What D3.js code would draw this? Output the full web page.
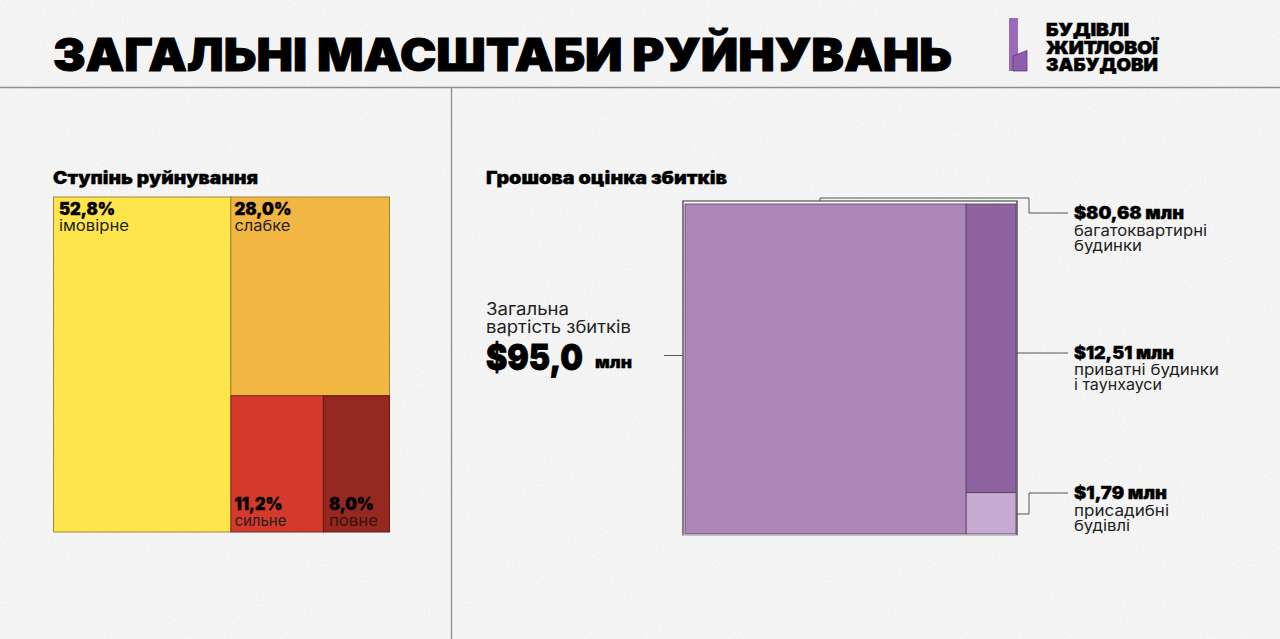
<!DOCTYPE html>
<html><head><meta charset="utf-8">
<script src="https://cdn.jsdelivr.net/npm/d3@7"></script>
<style>html,body{margin:0;padding:0;background:#f4f4f4;overflow:hidden}svg{display:block}text{font-family:Inter,"Noto Sans",sans-serif;fill:#000}</style>
</head><body><svg id="c" width="1280" height="639"></svg>
<script>
const title = "ЗАГАЛЬНІ МАСШТАБИ РУЙНУВАНЬ";
const logoLines = ["БУДІВЛІ","ЖИТЛОВОЇ","ЗАБУДОВИ"];
const damageNames = ["імовірне","слабке","сильне","повне"];
const damageValues = [52.8,28.0,11.2,8.0];
const damageLabels = ["52,8%","28,0%","11,2%","8,0%"];
const damageColors = ["#fee54b","#f2b643","#d5392b","#952820"];
const costValues = [80.68,12.51,1.79];
const costLabels = ["$80,68 млн","$12,51 млн","$1,79 млн"];
const costNames = [["багатоквартирні","будинки"],["приватні будинки","і таунхауси"],["присадибні","будівлі"]];
const costColors = ["#ad87b8","#8e63a0","#c7aad2"];

const svg = d3.select("#c");
const f = svg.append("defs").append("filter").attr("id","grain").attr("x",0).attr("y",0).attr("width","100%").attr("height","100%");
f.append("feTurbulence").attr("type","fractalNoise").attr("baseFrequency",0.55).attr("numOctaves",2).attr("seed",4);
f.append("feColorMatrix").attr("values","0 0 0 0 0.5  0 0 0 0 0.5  0 0 0 0 0.5  0 0 0 0.22 -0.07");
svg.append("rect").attr("width",1280).attr("height",639).attr("fill","#f6f6f6");
svg.append("rect").attr("width",1280).attr("height",639).attr("filter","url(#grain)");

// one text element, one tspan per line: [string, y, size, weight, length, fill, heavy]
function block(x,lines){
  const t = svg.append("text").attr("x",x);
  lines.forEach(l=>{
    const s = t.append("tspan").attr("x",x).attr("y",l[1]).attr("font-size",l[2]).attr("font-weight",l[3])
      .attr("textLength",l[4]).attr("lengthAdjust","spacingAndGlyphs").text(l[0]);
    if(l[5]) s.style("fill",l[5]);
    if(l[6]) s.style("stroke","#000").style("stroke-width",l[6]);
  });
}
function treemapOf(tree,x0,y0,x1,y1){
  const root = d3.hierarchy(tree).sum(d=>d.value||0);
  const tile = (node,a,b,c,d)=> (node.depth%2===0 ? d3.treemapDice : d3.treemapSlice)(node,a,b,c,d);
  return d3.treemap().tile(tile).size([x1-x0,y1-y0]).paddingInner(0).round(false)(root).leaves()
    .map(l=>({i:l.data.i,x:x0+l.x0,y:y0+l.y0,w:l.x1-l.x0,h:l.y1-l.y0}));
}
const rule = "#8e8e8e";
svg.append("line").attr("x1",0).attr("x2",1280).attr("y1",87.5).attr("y2",87.5).attr("stroke",rule).attr("stroke-width",1.3);
svg.append("line").attr("x1",451.5).attr("x2",451.5).attr("y1",88).attr("y2",639).attr("stroke",rule).attr("stroke-width",1.3);

// header
block(53,[[title,71,45,900,899,null,1]]);
svg.append("rect").attr("x",1009).attr("y",18).attr("width",9).attr("height",53).attr("fill","#9d69bb");
svg.append("path").attr("d","M1013 71V56L1027 50.5V71Z").attr("fill","#8f5cae").attr("stroke","#4f3560").attr("stroke-width",.7);
const logoY=[36,54,71], logoLen=[83,112,112];
block(1046,logoLines.map((s,i)=>[s,logoY[i],18,900,logoLen[i],null,.5]));

// left treemap
block(53,[["Ступінь руйнування",184,17,900,205,null,.35]]);
const leftTree = {children:[{i:0,value:damageValues[0]},{children:[{i:1,value:damageValues[1]},{children:[{i:2,value:damageValues[2]},{i:3,value:damageValues[3]}]}]}]};
const L = treemapOf(leftTree,53.5,197,389.5,532);
const borders = ["#9a8a45","#a58438","#7c2a20","#5f1a14"];
svg.append("g").selectAll("rect").data(L).join("rect")
  .attr("x",d=>d.x).attr("y",d=>d.y).attr("width",d=>d.w).attr("height",d=>d.h)
  .attr("fill",d=>damageColors[d.i]).attr("stroke",d=>borders[d.i]).attr("stroke-width",1);
const valLen=[56,57,48,45], nameLen=[70,56,52,49], padX=[5.5,3.5,3.5,5.5];
L.forEach(d=>{
  const top = d.i<2;
  block(d.x+padX[d.i],[
    [damageLabels[d.i],top?215:510,17,900,valLen[d.i],null,.4],
    [damageNames[d.i],top?231:526,15,400,nameLen[d.i],d.i===3?"#3a0f0b":"#222"]
  ]);
});

// right treemap
block(486,[["Грошова оцінка збитків",184,17,900,241,null,.35]]);
const rightTree = {children:[{i:0,value:costValues[0]},{children:[{i:1,value:costValues[1]},{i:2,value:costValues[2]}]}]};
const R = treemapOf(rightTree,685,204,1016,534);
svg.append("rect").attr("x",683).attr("y",201).attr("width",334).attr("height",334.5).attr("fill","#fafafa");
svg.append("path").attr("d","M683 535.5V201H1017V535.5").attr("fill","none").attr("stroke","#2f2f2f").attr("stroke-width",1.2);
svg.append("line").attr("x1",683).attr("x2",1017).attr("y1",535.5).attr("y2",535.5).attr("stroke","#c4c4c4");
svg.append("g").selectAll("rect").data(R).join("rect")
  .attr("x",d=>d.x).attr("y",d=>d.y).attr("width",d=>d.w).attr("height",d=>d.h)
  .attr("fill",d=>costColors[d.i]).attr("stroke","#4e3a58").attr("stroke-width",.8);

// leaders
const leaderPath = ["M820 201V198H1029V213H1068","M1016 353H1068","M1016 514H1029V493H1068","M664 355.5H683"];
svg.append("g").selectAll("path").data(leaderPath).join("path").attr("d",d=>d)
  .attr("fill","none").attr("stroke","#555").attr("stroke-width",1);

// right labels
const rightY=[[219,236,251],[359,375,390],[499,516,531]];
const rightLen=[[110,133,68],[100,145,88],[93,95,56]];
costLabels.forEach((s,i)=>{
  block(1074,[
    [s,rightY[i][0],17,900,rightLen[i][0],null,.4],
    [costNames[i][0],rightY[i][1],15,400,rightLen[i][1],"#222"],
    [costNames[i][1],rightY[i][2],15,400,rightLen[i][2],"#222"]
  ]);
});

// total
block(486,[
  ["Загальна",315,17,400,83,"#222"],
  ["вартість збитків",333,17,400,145,"#222"],
  ["$95,0",370,36,900,97,null,.8]
]);
block(595,[["млн",368,15,900,37,null,.3]]);
</script></body></html>
